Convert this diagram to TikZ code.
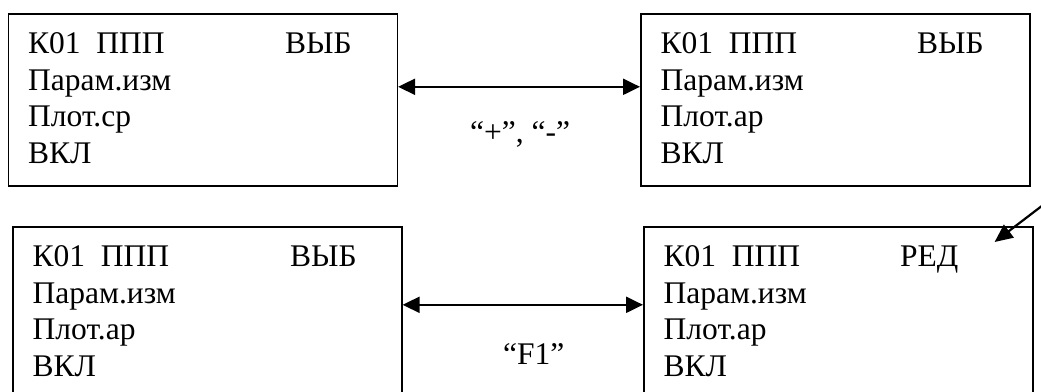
\documentclass[tikz,border=0pt]{standalone}
\usepackage{fontspec}
\setmainfont{Liberation Serif}
\usetikzlibrary{calc,arrows.meta}

\begin{document}
\begin{tikzpicture}[x=1pt, y=-1pt,
        scr/.style = {draw, line width=1.6pt, rectangle, anchor=north west, minimum width=389pt, minimum height=172pt, inner sep=0pt},
        txt/.style = {anchor=base west, inner sep=0pt, font=\fontsize{31.5pt}{37pt}\selectfont},
        arr/.style = {line width=2.2pt, -{Triangle[length=18pt, width=16pt]}},
        both/.style = {line width=2.2pt, {Triangle[length=17pt, width=16pt]}-{Triangle[length=17pt, width=16pt]}}]
        \useasboundingbox (0,0) rectangle (1041,391);
        \clip (0,0) rectangle (1041,391);

        \foreach \b/\x/\y/\w/\o/\p in {tl/7.5/13/ВЫБ/277.5/Плот.ср, tr/640/13/ВЫБ/277/Плот.ар, bl/12/226/ВЫБ/278/Плот.ар, br/643/226/РЕД/257/Плот.ар}
                 {
                   \node [scr] (\b) at (\x, \y) {};
                   \node [txt] (\b1) at ($ (\b.north west) + (20.5, 40) $) {К01\hspace{0.5em}ППП};
                   \node [txt] (\b w) at ($ (\b.north west) + (\o, 40) $) {\w};
                   \node [txt] (\b2) at ($ (\b1.base west) + (0, 37) $) {Парам.изм};
                   \node [txt] (\b3) at ($ (\b2.base west) + (0, 36.5) $) {\p};
                   \node [txt] (\b4) at ($ (\b3.base west) + (0, 37) $) {ВКЛ};
                 }

                 \draw [both] ([yshift=13pt] tl.east) -- ([yshift=13pt] tr.west);
                 \node [txt, anchor=base] (pm) at ($ (tl.east)!.5!(tr.west) + (1, 43) $) {“+”, “-”};

                 \draw [both] ([yshift=8pt] bl.east) -- ([yshift=8pt] br.west);
                 \node [txt, anchor=base] (f1) at ($ (bl.east)!.5!(br.west) + (11, 52) $) {“F1”};

                 \coordinate (ptr) at (1047, 202);
                 \coordinate (ptrtip) at ($ (br.north east) + (-39, 16) $);
                 \draw [arr] (ptr) -- (ptrtip);
      \end{tikzpicture}
\end{document}
